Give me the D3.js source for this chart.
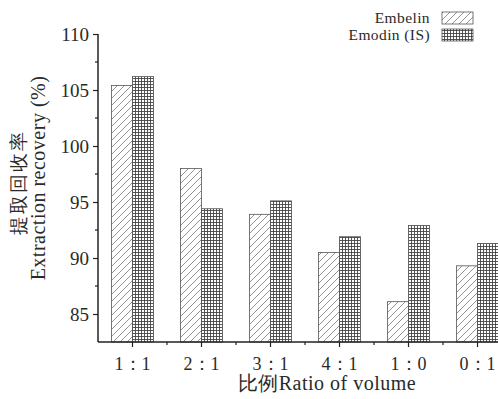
<!DOCTYPE html>
<html>
<head>
<meta charset="utf-8">
<script src="https://cdn.jsdelivr.net/npm/d3@7"></script>
<style>
  body { margin: 0; background: #fff; }
  text { font-family: "Liberation Serif", "Times New Roman", serif; fill: #2a2a2a; }
</style>
</head>
<body>
<svg id="chart" width="498" height="399"></svg>
<script>
// Extraction recovery for each solvent ratio
var categories = ["1：1", "2：1", "3：1", "4：1", "1：0", "0：1"];
var embelin = [105.4, 98.0, 93.9, 90.5, 86.1, 89.3];
var emodin = [106.2, 94.4, 95.1, 91.9, 92.9, 91.3];
var seriesNames = ["Embelin", "Emodin (IS)"];
var yTicks = [85, 90, 95, 100, 105, 110];
var yMinor = [87.5, 92.5, 97.5, 102.5, 107.5];

var svg = d3.select("#chart");
var plotLeft = 98, plotTop = 34, plotBottom = 342;

var band = 69;
var x = d3.scaleBand()
    .domain(categories)
    .range([plotLeft, plotLeft + band * categories.length])
    .padding(0);

var y = d3.scaleLinear().domain([82.5, 110]).range([plotBottom, plotTop]);

// Patterns: diagonal hatch and dense cross grid
var defs = svg.append("defs");
var hatch = defs.append("pattern")
    .attr("id", "hatch")
    .attr("patternUnits", "userSpaceOnUse")
    .attr("width", 7).attr("height", 7);
hatch.append("rect").attr("width", 7).attr("height", 7).attr("fill", "#fff");
hatch.append("path")
    .attr("d", "M-1,8 L8,-1 M-1,1 L1,-1 M6,8 L8,6")
    .attr("stroke", "#777").attr("stroke-width", 0.8);

var grid = defs.append("pattern")
    .attr("id", "grid")
    .attr("patternUnits", "userSpaceOnUse")
    .attr("width", 3).attr("height", 3);
grid.append("rect").attr("width", 3).attr("height", 3).attr("fill", "#fff");
grid.append("path")
    .attr("d", "M0,0.5 H3 M0.5,0 V3")
    .attr("stroke", "#444").attr("stroke-width", 0.9);

var barW = 21;
var series = [
    { name: seriesNames[0], values: embelin, fill: "url(#hatch)", off: -barW },
    { name: seriesNames[1], values: emodin, fill: "url(#grid)", off: 0 }
];

series.forEach(function (s) {
    svg.append("g").selectAll("rect")
        .data(s.values)
        .enter().append("rect")
        .attr("x", function (d, i) { return x(categories[i]) + x.bandwidth() / 2 + s.off; })
        .attr("y", function (d) { return y(d); })
        .attr("width", barW)
        .attr("height", function (d) { return plotBottom - y(d); })
        .attr("fill", s.fill)
        .attr("stroke", "#555")
        .attr("stroke-width", 0.8);
});

// Y axis
var yAxis = d3.axisLeft(y).tickValues(yTicks).tickSize(5).tickPadding(4);
var gy = svg.append("g").attr("transform", "translate(" + plotLeft + ",0)").call(yAxis);
gy.select(".domain").attr("d", "M0," + plotTop + "V" + plotBottom).attr("stroke", "#222").attr("stroke-width", 1.5);
gy.selectAll(".tick line").attr("stroke", "#222").attr("stroke-width", 1.2);
gy.selectAll(".tick text").style("font-size", "19px").attr("fill", "#2a2a2a");
// minor y ticks
gy.selectAll(".minor").data(yMinor).enter().append("line")
    .attr("class", "minor")
    .attr("x1", -3).attr("x2", 0)
    .attr("y1", function (d) { return y(d); }).attr("y2", function (d) { return y(d); })
    .attr("stroke", "#222").attr("stroke-width", 1.2);

// X axis
var xAxis = d3.axisBottom(x).tickSize(5).tickPadding(10);
var gx = svg.append("g").attr("transform", "translate(0," + plotBottom + ")").call(xAxis);
gx.select(".domain").attr("d", "M" + plotLeft + ",0H498").attr("stroke", "#222").attr("stroke-width", 1.5);
gx.selectAll(".tick line").attr("stroke", "#222").attr("stroke-width", 1.2);
gx.selectAll(".tick text").style("font-size", "18px").attr("fill", "#2a2a2a");
// minor x ticks at band edges
gx.selectAll(".minor").data(categories.slice(1)).enter().append("line")
    .attr("class", "minor")
    .attr("x1", function (d) { return x(d); }).attr("x2", function (d) { return x(d); })
    .attr("y1", 0).attr("y2", 3)
    .attr("stroke", "#222").attr("stroke-width", 1.2);

// Axis titles
svg.append("text")
    .attr("transform", "translate(25,182) rotate(-90)")
    .attr("text-anchor", "middle")
    .style("font-size", "19px")
    .style("letter-spacing", "2px")
    .text("提取回收率");
svg.append("text")
    .attr("transform", "translate(45,178) rotate(-90)")
    .attr("text-anchor", "middle")
    .style("font-size", "20px")
    .style("letter-spacing", "0.5px")
    .text("Extraction recovery (%)");
svg.append("text")
    .attr("x", 327).attr("y", 390)
    .attr("text-anchor", "middle")
    .style("font-size", "20px")
    .style("letter-spacing", "0.5px")
    .text("比例Ratio of volume");

// Legend
var legend = svg.append("g");
series.forEach(function (s, i) {
    var ly = 18 + i * 17;
    legend.append("text")
        .attr("x", 430).attr("y", ly + 5)
        .attr("text-anchor", "end")
        .style("font-size", "15.5px")
        .style("letter-spacing", "0.4px")
        .text(s.name);
    legend.append("rect")
        .attr("x", 442).attr("y", ly - 6)
        .attr("width", 31).attr("height", 12)
        .attr("fill", s.fill)
        .attr("stroke", "#555").attr("stroke-width", 0.8);
});
</script>
</body>
</html>
